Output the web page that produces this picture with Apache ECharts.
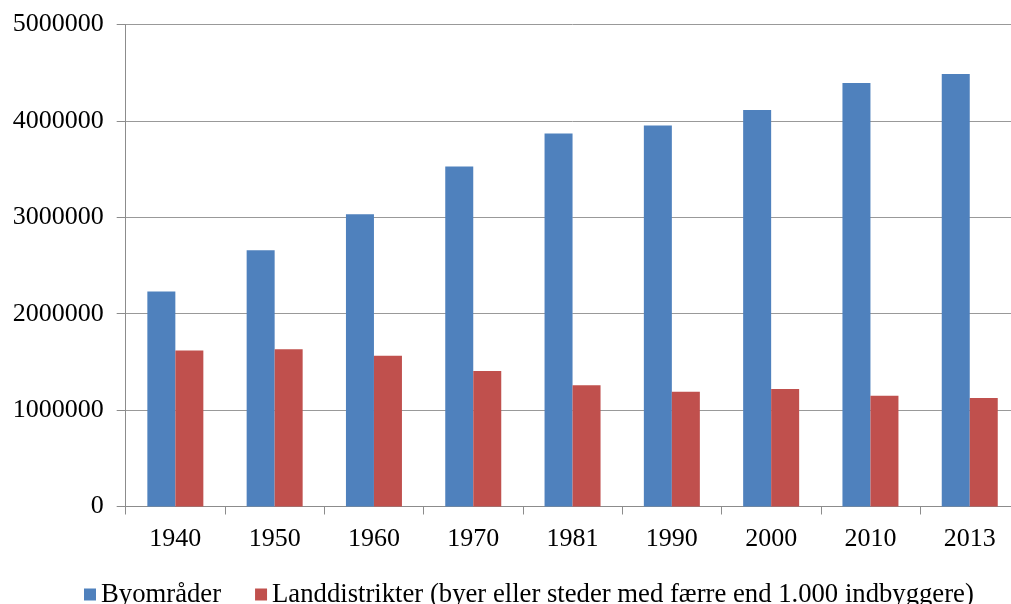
<!DOCTYPE html>
<html>
<head>
<meta charset="utf-8">
<script src="https://cdn.jsdelivr.net/npm/echarts@6/dist/echarts.min.js"></script>
<style>html,body{margin:0;padding:0;background:#fff;overflow:hidden;}#c{width:1020px;height:604px;}</style>
</head>
<body>
<div id="c"></div>
<script>
const categories = ['1940','1950','1960','1970','1981','1990','2000','2010','2013'];
const byomrader = [2231000, 2657000, 3031000, 3526000, 3869000, 3952000, 4112000, 4393000, 4487000];
const landdistrikter = [1617000, 1631000, 1565000, 1405000, 1257000, 1191000, 1218000, 1150000, 1125000];
const seriesNames = ['Byområder', 'Landdistrikter (byer eller steder med færre end 1.000 indbyggere)'];

const font = 'Liberation Serif';
const chart = echarts.init(document.getElementById('c'), null, {renderer: 'canvas'});
chart.setOption({
  animation: false,
  backgroundColor: '#fff',
  textStyle: {fontFamily: font},
  grid: {left: 125.7, top: 24.5, right: 0.6, bottom: 97.5, containLabel: false},
  legend: {
    left: 79, top: 576,
    itemWidth: 12, itemHeight: 12, itemGap: 34, itemTextGap: 6,
    icon: 'rect',
    textStyle: {fontFamily: font, fontSize: 26.7, color: '#000'},
    data: seriesNames
  },
  xAxis: {
    type: 'category',
    data: categories,
    axisLine: {lineStyle: {color: '#8c8c8c', width: 1}},
    axisTick: {show: true, length: 8, lineStyle: {color: '#8c8c8c'}},
    axisLabel: {fontFamily: font, fontSize: 26, color: '#000', margin: 20}
  },
  yAxis: {
    type: 'value',
    min: 0, max: 5000000, interval: 1000000,
    axisLine: {show: true, lineStyle: {color: '#8c8c8c', width: 1}},
    axisTick: {show: true, length: 9, lineStyle: {color: '#8c8c8c'}},
    splitLine: {show: true, lineStyle: {color: '#999999', width: 1}},
    axisLabel: {fontFamily: font, fontSize: 26, color: '#000', margin: 22,
      formatter: function (v) { return String(v); }}
  },
  series: [
    {name: seriesNames[0], type: 'bar', data: byomrader, barWidth: 28, barGap: '0%',
     itemStyle: {color: '#4F81BD'}},
    {name: seriesNames[1], type: 'bar', data: landdistrikter, barWidth: 28, barGap: '0%',
     itemStyle: {color: '#C0504D'}}
  ]
});
</script>
</body>
</html>
